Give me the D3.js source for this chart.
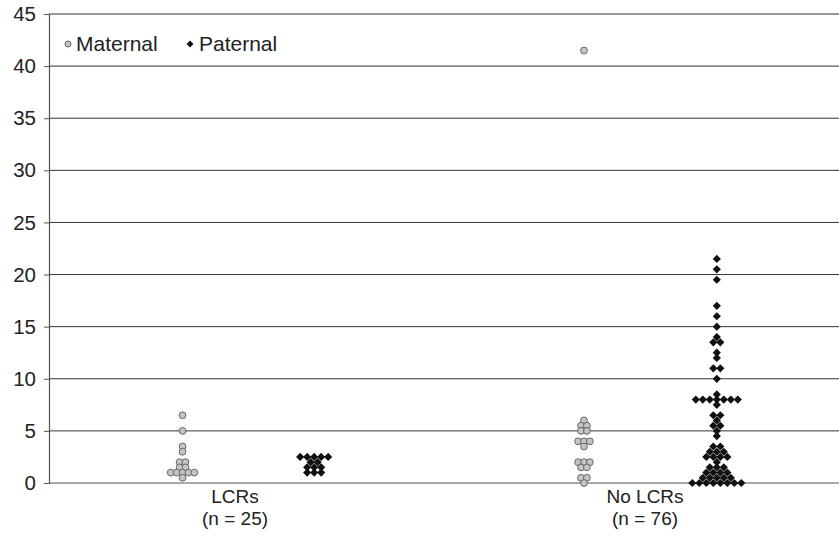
<!DOCTYPE html>
<html><head><meta charset="utf-8">
<script src="https://cdn.jsdelivr.net/npm/d3@7/dist/d3.min.js"></script>
<style>
html,body{margin:0;padding:0;background:#fff;}
svg{display:block;font-family:"Liberation Sans",Arial,sans-serif;}
</style></head>
<body>
<svg id="chart" width="839" height="547"></svg>
<script>
// ---- data ----
const categories = ["LCRs", "No LCRs"];
const categoryN = ["(n = 25)", "(n = 76)"];
const seriesNames = ["Maternal", "Paternal"];
const yTicks = [0, 5, 10, 15, 20, 25, 30, 35, 40, 45];
// x position (category units) of each group of points
const maternalLCRsX = 0.872;
const paternalLCRsX = 1.193;
const maternalNoLCRsX = 1.851;
const paternalNoLCRsX = 2.175;
const maternalLCRs = [6.5, 5, 3.5, 3, 2, 2, 1.5, 1.5, 1, 1, 1, 1, 1, 0.5];
const paternalLCRs = [2.5, 2.5, 2.5, 2.5, 2.5, 2, 2, 1.5, 1.5, 1.5, 1, 1, 1];
const maternalNoLCRs = [41.5, 6, 5.5, 5.5, 5, 5, 4, 4, 4, 3.5, 2, 2, 2, 1.5, 1.5, 0.5, 0.5, 0];
const paternalNoLCRs = [21.5, 20.5, 19.5, 17, 16, 15, 14, 13.5, 13.5, 12.5, 12, 11, 11, 10,
  8.5, 8, 8, 8, 8, 8, 8, 8, 7.5, 6.5, 6.5, 6, 5.5, 5.5, 5, 4.5,
  3.5, 3.5, 3, 3, 3, 2.5, 2.5, 2.5, 2.5, 2, 1.5, 1.5, 1.5, 1, 1, 1, 1,
  0.5, 0.5, 0.5, 0.5, 0.5, 0, 0, 0, 0, 0, 0, 0, 0];

// ---- layout ----
const M = { left: 49, right: 839, top: 14, bottom: 483 };
const svg = d3.select("#chart");

const x = d3.scaleLinear().domain([0.5463, 2.473]).range([M.left, M.right]);
const y = d3.scaleLinear().domain([0, 45]).range([M.bottom, M.top]);

// gridlines
svg.append("g").selectAll("line").data(yTicks.filter(v => v > 0)).join("line")
  .attr("x1", M.left).attr("x2", M.right)
  .attr("y1", d => y(d)).attr("y2", d => y(d))
  .attr("stroke", "#333").attr("stroke-width", 1);

// y axis
const yAxis = svg.append("g").attr("transform", `translate(${M.left},0)`)
  .call(d3.axisLeft(y).tickValues(yTicks).tickSize(5).tickPadding(8).tickFormat(d3.format("d")));
yAxis.select(".domain").attr("stroke", "#555").attr("stroke-width", 1.2);
yAxis.selectAll(".tick line").attr("stroke", "#555");
yAxis.selectAll(".tick text").attr("font-size", 20.5).attr("fill", "#222")
  .attr("font-family", "'Liberation Sans', Arial, sans-serif");

// x baseline
svg.append("line").attr("x1", M.left).attr("x2", M.right).attr("y1", y(0)).attr("y2", y(0))
  .attr("stroke", "#555").attr("stroke-width", 1.2);

// category labels
categories.forEach((c, i) => {
  const cx = x(i + 1);
  svg.append("text").attr("x", cx).attr("y", 503).attr("text-anchor", "middle")
    .attr("font-size", 19).attr("fill", "#222").text(c);
  svg.append("text").attr("x", cx).attr("y", 525).attr("text-anchor", "middle")
    .attr("font-size", 19).attr("fill", "#222").text(categoryN[i]);
});

// beeswarm rows: points with equal value are centred around group x
function swarm(values, gx, step) {
  const counts = d3.rollup(values, v => v.length, v => v);
  const seen = new Map();
  return values.map(v => {
    const k = counts.get(v);
    const i = seen.get(v) || 0;
    seen.set(v, i + 1);
    return { v, px: x(gx) + (i - (k - 1) / 2) * step, py: y(v) };
  });
}

const diamond = r => `M0,${-r}L${r},0L0,${r}L${-r},0Z`;

function drawCircles(values, gx) {
  svg.append("g").selectAll("circle").data(swarm(values, gx, 5.9)).join("circle")
    .attr("cx", d => d.px).attr("cy", d => d.py).attr("r", 3.4)
    .attr("fill", "#c4c4c4").attr("stroke", "#666").attr("stroke-width", 1);
}
function drawDiamonds(values, gx) {
  svg.append("g").selectAll("path").data(swarm(values, gx, 7)).join("path")
    .attr("transform", d => `translate(${d.px},${d.py})`)
    .attr("d", diamond(4.1)).attr("fill", "#111");
}
drawCircles(maternalLCRs, maternalLCRsX);
drawDiamonds(paternalLCRs, paternalLCRsX);
drawCircles(maternalNoLCRs, maternalNoLCRsX);
drawDiamonds(paternalNoLCRs, paternalNoLCRsX);

// legend
const lg = svg.append("g");
lg.append("circle").attr("cx", 68).attr("cy", 44).attr("r", 3)
  .attr("fill", "#c4c4c4").attr("stroke", "#666").attr("stroke-width", 1);
lg.append("text").attr("x", 76).attr("y", 51).attr("font-size", 21).attr("fill", "#222").text(seriesNames[0]);
lg.append("path").attr("transform", "translate(190,44)").attr("d", diamond(3.5)).attr("fill", "#111");
lg.append("text").attr("x", 199).attr("y", 51).attr("font-size", 21).attr("fill", "#222").text(seriesNames[1]);
</script>
</body></html>
